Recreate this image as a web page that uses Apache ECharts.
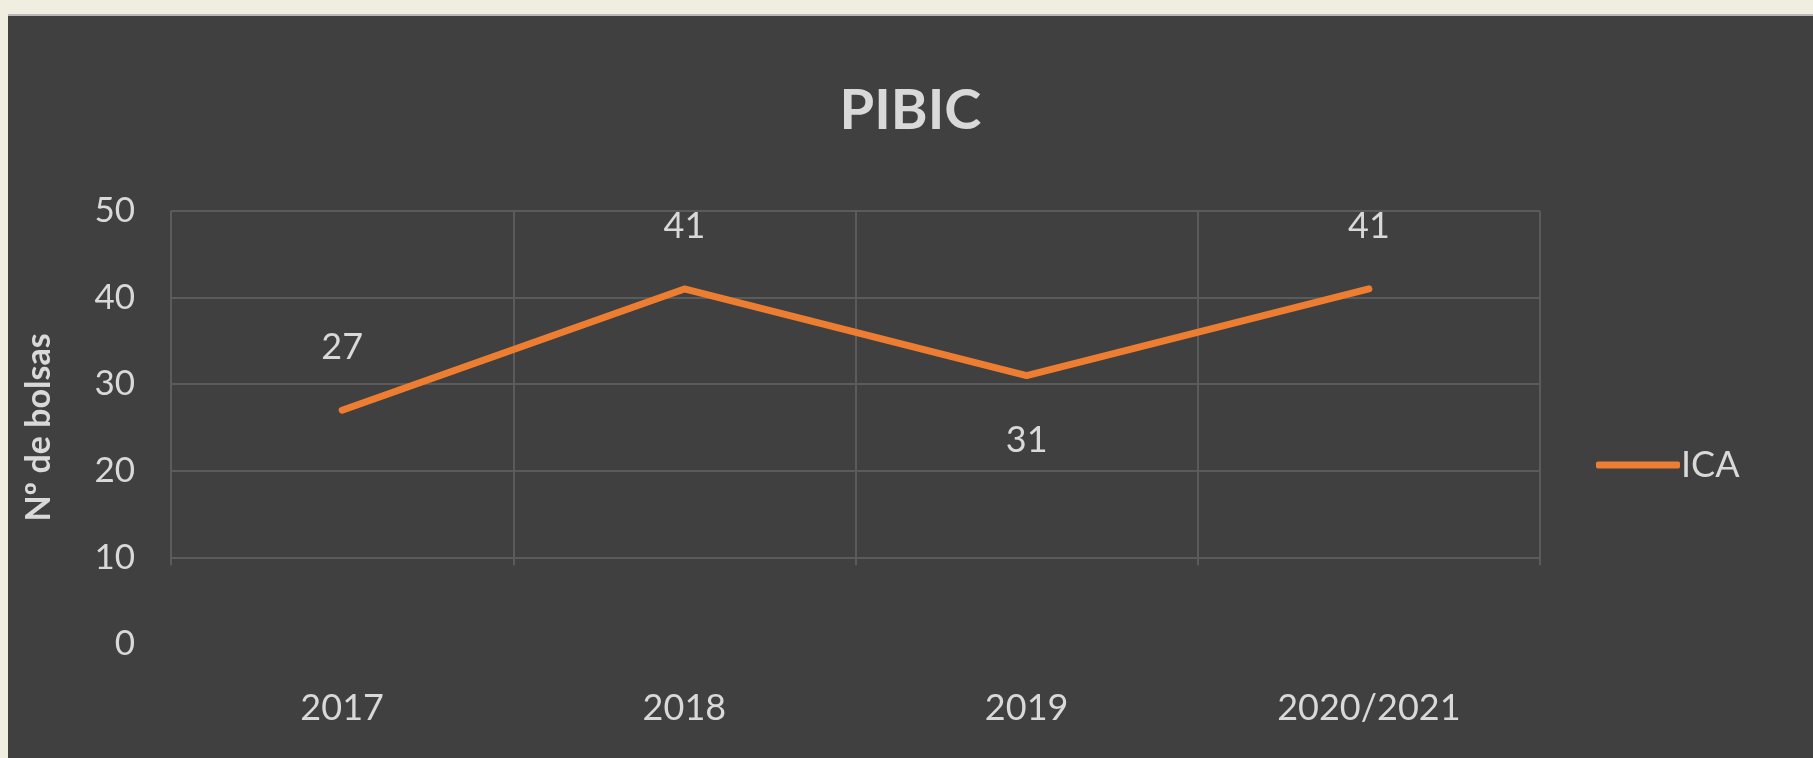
<!DOCTYPE html>
<html>
<head>
<meta charset="utf-8">
<title>PIBIC</title>
<script src="https://cdn.jsdelivr.net/npm/echarts@6/dist/echarts.min.js"></script>
<style>
  html, body {
    margin: 0;
    padding: 0;
    width: 1813px;
    height: 758px;
    background: #f0ede1;
    overflow: hidden;
  }
  #chart {
    position: absolute;
    left: 8px;
    top: 14px;
    width: 1805px;
    height: 744px;
    background: #404040;
    border-top: 2px solid #b8b8b8;
    box-sizing: border-box;
  }
</style>
</head>
<body>
<div id="chart"></div>
<script>
// dados
const years = ['2017', '2018', '2019', '2020/2021']
const ica = [27, 41, 31, 41]
const labelPos = ['top', 'top', 'bottom', 'top']
const yTicks = [0, 10, 20, 30, 40, 50]
// faixa inferior sem linhas de grade (como no original)
const blankBand = [0, 8.8]

const textColor = '#d9d9d9'
const gridColor = '#5b5b5b'
const bgColor = '#404040'
const lineColor = '#ed7d31'
const font = 'Lato, "Open Sans", sans-serif'

const chart = echarts.init(document.getElementById('chart'))

chart.setOption({
  animation: false,
  textStyle: { fontFamily: font },
  title: {
    text: 'PIBIC',
    left: 'center',
    top: 62,
    textStyle: { color: textColor, fontSize: 56, fontWeight: 'bold', fontFamily: font }
  },
  legend: {
    data: ['ICA'],
    left: 1583,
    top: 426,
    icon: 'roundRect',
    itemWidth: 84,
    itemHeight: 7,
    itemGap: 4,
    itemStyle: { color: lineColor },
    textStyle: { color: textColor, fontSize: 36, fontFamily: font, padding: [0, 0, 0, -4] }
  },
  grid: { left: 163, right: 273, top: 195, bottom: 114 },
  xAxis: {
    type: 'category',
    data: years,
    boundaryGap: true,
    axisLine: { show: false },
    axisTick: { show: false },
    axisLabel: { color: textColor, fontSize: 36, margin: 46, fontFamily: font },
    splitLine: { show: true, lineStyle: { color: gridColor, width: 2 } }
  },
  yAxis: {
    type: 'value',
    min: yTicks[0],
    max: yTicks[yTicks.length - 1],
    interval: 10,
    name: 'Nº de bolsas',
    nameLocation: 'middle',
    nameRotate: 90,
    nameGap: 115,
    nameTextStyle: { color: textColor, fontSize: 34, fontWeight: 'bold', fontFamily: font },
    axisLine: { show: false },
    axisTick: { show: false },
    axisLabel: { color: textColor, fontSize: 35, margin: 36, fontFamily: font },
    splitLine: { lineStyle: { color: gridColor, width: 2 } }
  },
  series: [
    {
      name: 'ICA',
      type: 'line',
      data: ica.map((v, i) => ({
        value: v,
        label: { position: labelPos[i], distance: labelPos[i] === 'bottom' ? 46 : 44 }
      })),
      showSymbol: true,
      symbol: 'circle',
      symbolSize: 2,
      lineStyle: { color: lineColor, width: 7, cap: 'round', join: 'round' },
      itemStyle: { color: lineColor },
      label: {
        show: true,
        color: textColor,
        fontSize: 36,
        fontFamily: font
      },
      markArea: {
        silent: true,
        itemStyle: { color: bgColor, borderColor: bgColor, borderWidth: 5 },
        data: [[{ yAxis: blankBand[0] }, { yAxis: blankBand[1] }]]
      }
    }
  ]
})
</script>
</body>
</html>
